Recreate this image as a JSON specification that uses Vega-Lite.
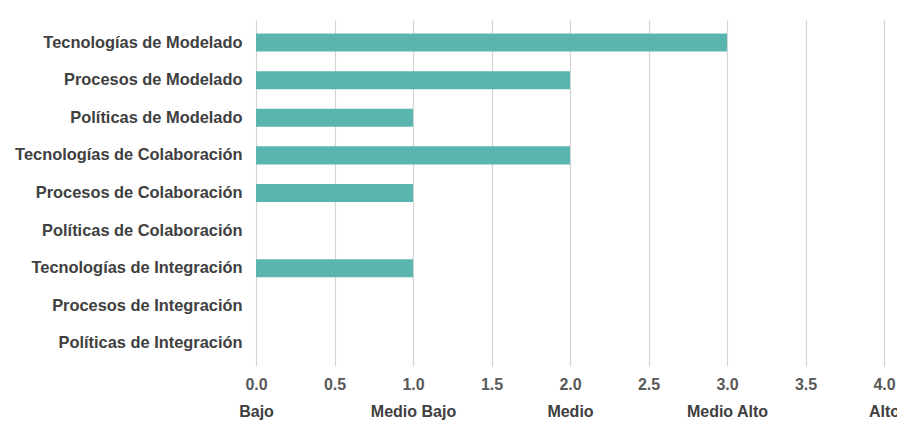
{
  "$schema": "https://vega.github.io/schema/vega-lite/v6.json",
  "width": 628,
  "height": 346,
  "autosize": "none",
  "padding": {"left": 256, "top": 20, "right": 13, "bottom": 57},
  "background": "white",
  "config": {
    "view": {"stroke": null},
    "font": "Liberation Sans"
  },
  "data": {
    "values": [
      {"aspecto": "Tecnologías de Modelado", "nivel": 3},
      {"aspecto": "Procesos de Modelado", "nivel": 2},
      {"aspecto": "Políticas de Modelado", "nivel": 1},
      {"aspecto": "Tecnologías de Colaboración", "nivel": 2},
      {"aspecto": "Procesos de Colaboración", "nivel": 1},
      {"aspecto": "Políticas de Colaboración", "nivel": 0},
      {"aspecto": "Tecnologías de Integración", "nivel": 1},
      {"aspecto": "Procesos de Integración", "nivel": 0},
      {"aspecto": "Políticas de Integración", "nivel": 0}
    ]
  },
  "layer": [
    {
      "mark": {"type": "bar", "color": "#5bb5af"},
      "encoding": {
        "y": {
          "field": "aspecto",
          "type": "nominal",
          "sort": null,
          "scale": {"paddingInner": 0.52, "paddingOuter": 0.36},
          "axis": {
            "title": null,
            "domain": false,
            "ticks": false,
            "labelPadding": 14,
            "labelFontSize": 16.4,
            "labelFontWeight": "bold",
            "labelColor": "#404040",
            "labelLimit": 400
          }
        },
        "x": {
          "field": "nivel",
          "type": "quantitative",
          "scale": {"domain": [0, 4], "nice": false},
          "axis": {
            "orient": "bottom",
            "title": null,
            "values": [0, 0.5, 1, 1.5, 2, 2.5, 3, 3.5, 4],
            "format": ".1f",
            "grid": true,
            "gridColor": "#d4d4d4",
            "gridWidth": 1.2,
            "domain": false,
            "ticks": false,
            "tickSize": 0,
            "labelPadding": 10,
            "labelFlush": false,
            "labelOverlap": false,
            "labelFontSize": 16,
            "labelFontWeight": "bold",
            "labelColor": "#595959"
          }
        }
      }
    },
    {
      "mark": {"type": "bar", "opacity": 0},
      "encoding": {
        "y": {"field": "aspecto", "type": "nominal", "sort": null},
        "x": {
          "field": "nivel",
          "type": "quantitative",
          "axis": {
            "orient": "bottom",
            "title": null,
            "values": [0, 1, 2, 3, 4],
            "labelExpr": "datum.value == 0 ? 'Bajo' : datum.value == 1 ? 'Medio Bajo' : datum.value == 2 ? 'Medio' : datum.value == 3 ? 'Medio Alto' : 'Alto'",
            "grid": false,
            "domain": false,
            "ticks": false,
            "tickSize": 0,
            "labelPadding": 37,
            "labelFlush": false,
            "labelOverlap": false,
            "labelFontSize": 16,
            "labelFontWeight": "bold",
            "labelColor": "#404040"
          }
        }
      }
    }
  ],
  "resolve": {"axis": {"x": "independent"}}
}
